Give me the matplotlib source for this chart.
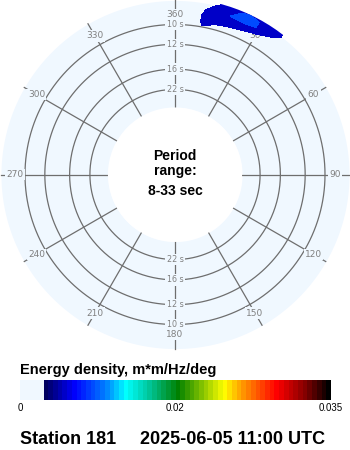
import numpy as np
import matplotlib.pyplot as plt
from matplotlib.colors import LinearSegmentedColormap, Normalize
from matplotlib.cm import ScalarMappable

# energy density around the peak (m*m/Hz/deg), zero elsewhere
dirs = np.array([0, 5, 10, 15, 20, 25, 30, 35, 40, 45])        # deg, clockwise from N
freqs = np.array([0.095, 0.100, 0.105, 0.110, 0.115, 0.120, 0.125])  # Hz
energy = np.array([
    [0, 0, 0,      0,      0,      0,      0,      0,      0, 0],
    [0, 0, 0.0023, 0,      0,      0,      0,      0,      0, 0],
    [0, 0, 0.0026, 0.0028, 0.0018, 0,      0,      0,      0, 0],
    [0, 0, 0.0026, 0.0055, 0.0055, 0.0047, 0.0022, 0,      0, 0],
    [0, 0, 0.0018, 0.0065, 0.0078, 0.0089, 0.0072, 0.0024, 0, 0],
    [0, 0, 0,      0.0032, 0.0070, 0.0084, 0.0074, 0.0055, 0, 0],
    [0, 0, 0,      0,      0.0060, 0.0068, 0.0060, 0.0040, 0, 0],
])

period_rings = [10, 12, 16, 22]
period_min, period_max = 8, 33
compass_deg = [0, 30, 60, 90, 120, 150, 180, 210, 240, 270, 300, 330]
compass_labels = ["360", "30", "60", "90", "120", "150", "180", "210", "240", "270", "300", "330"]
emax = 0.035
cbar_ticks = [0, 0.0175, 0.035]
cbar_ticklabels = ["0", "0.02", "0.035"]
station = "Station 181"
stamp = "2025-06-05 11:00 UTC"

BG = "#f0f8ff"
GRID = "#6e6e6e"
W, H = 350, 450
f_disc = 0.1202
f_out = 0.1223
r0 = -0.02605  # radial origin (Hz) so that rings sit where they do
thresh = 0.00236

cmap = LinearSegmentedColormap.from_list("cdip", [
    (0.0, BG), (0.0675, BG), (0.0675, "#000050"), (0.171, "#0000ff"),
    (0.273, "#0080ff"), (0.338, "#00ffff"), (0.41, "#00c8a0"), (0.508, "#008000"),
    (0.585, "#80c000"), (0.659, "#ffff00"), (0.714, "#ffa000"), (0.83, "#ff0000"),
    (0.926, "#800000"), (1.0, "#000000")], N=66)
norm = Normalize(0, emax)

fig = plt.figure(figsize=(3.5, 4.5), dpi=100)
R = 1190 * (f_out - r0)  # axes radius in px
cx, cy = 175, 174.5
ax = fig.add_axes([(cx - R) / W, (H - cy - R) / H, 2 * R / W, 2 * R / H], projection="polar")
ax.set_theta_zero_location("N")
ax.set_theta_direction(-1)
ax.set_rorigin(r0)
ax.set_ylim(1 / period_max, f_out)
ax.set_facecolor("none")
for s in ax.spines.values():
    s.set_visible(False)
    s.set_edgecolor("none")
ax.set_xticks([])
ax.set_yticks([])
ax.grid(False)

th = np.linspace(0, 2 * np.pi, 361)
ax.fill_between(th, 1 / period_max, f_disc, color=BG, lw=0, zorder=0)
for p in period_rings:
    ax.plot(th, np.full_like(th, 1 / p), color=GRID, lw=0.9, zorder=1)
for d in compass_deg:
    ax.plot([np.radians(d)] * 2, [1 / period_max, f_disc], color=GRID, lw=0.9, zorder=1)

f_lab = (160 - 31) / 1190
for d, lab in zip(compass_deg, compass_labels):
    ax.text(np.radians(d), f_lab, lab, ha="center", va="center", fontsize=6.5, color="#808080",
            bbox=dict(boxstyle="square,pad=0.15", fc=BG, ec="none"), zorder=2)
for p in period_rings:
    for d in (0, 180):
        ax.text(np.radians(d), 1 / p, f"{p} s", ha="center", va="center", fontsize=5.8, color="#808080",
                bbox=dict(boxstyle="square,pad=0.15", fc=BG, ec="none"), zorder=2)

T, F = np.meshgrid(np.radians(dirs), freqs)
ax.contourf(T, F, energy, levels=[thresh, 0.0076, 0.0090], cmap=cmap, norm=norm, zorder=3)

font = "Liberation Sans"
fig.text(cx / W, 1 - 160 / H, "Period", ha="center", va="baseline", fontsize=10, fontweight="bold", family=font)
fig.text(cx / W, 1 - 175 / H, "range:", ha="center", va="baseline", fontsize=10, fontweight="bold", family=font)
fig.text(cx / W, 1 - 195 / H, f"{period_min}-{period_max} sec", ha="center", va="baseline", fontsize=10,
         fontweight="bold", family=font)

fig.text(20 / W, 1 - 374 / H, "Energy density, m*m/Hz/deg", ha="left", va="baseline", fontsize=10.5,
         fontweight="bold", family=font)
cax = fig.add_axes([20 / W, 50 / H, 311 / W, 20 / H])
cb = fig.colorbar(ScalarMappable(norm=norm, cmap=cmap), cax=cax, orientation="horizontal", ticks=cbar_ticks)
cb.set_ticklabels(cbar_ticklabels)
cb.outline.set_visible(False)
cax.tick_params(length=0, labelsize=7, pad=2)
for t in cax.get_xticklabels():
    t.set_family(font)

fig.text(20 / W, 1 - 444 / H, station, ha="left", va="baseline", fontsize=13, fontweight="bold", family=font)
fig.text(140 / W, 1 - 444 / H, stamp, ha="left", va="baseline", fontsize=13, fontweight="bold", family=font)

fig.savefig("out.png", dpi=100)
